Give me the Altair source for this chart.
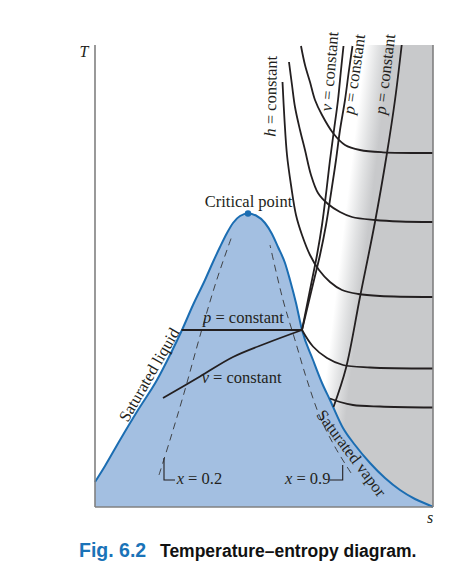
import altair as alt
import pandas as pd

# ---------------- data (entropy s, temperature T in diagram units) ----------------
S_MAX = 338
T_MAX = 462

# saturation dome (saturated liquid -> critical point -> saturated vapor)
dome_s = [0, 10, 25, 43, 62, 75, 87, 98, 110, 118, 125, 132, 138, 145, 153,
          161, 170, 177, 183, 190, 195, 201, 207, 218, 227, 235, 248, 260, 275, 290, 305, 320, 337, 338]
dome_T = [25, 41, 67, 97, 127, 152, 177, 202, 227, 245, 260, 274, 284, 291, 293.5,
          291.5, 284, 273, 260, 244, 227, 204, 177, 147, 124, 107, 79, 62, 44, 29, 17, 8, 0.5, 0]

crit_s = [153]
crit_T = [293.5]

# p = constant and v = constant inside the dome
p_in_s = [86.5, 207]
p_in_T = [177, 177]
v_in_s = [68, 105, 138, 172, 207]
v_in_T = [109, 130.5, 150, 164, 177]

# h = constant lines
hA_s = [187.5, 189.5, 192, 196, 201, 207, 215, 224, 235, 247, 263, 285, 338]
hA_T = [425, 387, 352, 322, 292, 272, 252, 237, 225, 217, 213, 211, 210]
hB_s = [194, 197, 200, 205, 210, 216, 223, 233, 245, 257, 280, 305, 338]
hB_T = [445, 422, 400, 377, 357, 332, 314, 303, 295, 290, 287, 285.5, 285]
hC_s = [206, 210, 215, 220, 227, 238, 250, 265, 288, 338]
hC_T = [461, 442, 425, 407, 392, 374, 362, 357, 354.7, 354]
hD_s = [207, 218, 232, 248, 275, 338]
hD_T = [177, 160.5, 149, 142, 139.5, 138.5]
hE_s = [235, 245, 258, 285, 338]
hE_T = [108.5, 105, 102, 100.5, 99.5]

# v = constant and p = constant in the superheated region
v_s = [207, 212, 217, 222, 227, 231.5, 235, 239, 243, 246, 248.5]
v_T = [177, 202, 227, 252, 282, 317, 347, 377, 407, 437, 461]
p1_s = [207, 213, 219, 225, 231, 236.5, 241, 245, 250, 254, 257.5]
p1_T = [177, 202, 227, 252, 282, 317, 347, 377, 407, 437, 461]
p2_s = [238.5, 251, 265, 280, 292, 300, 306.7]
p2_T = [100, 139, 210, 285, 354, 407, 462]

# quality lines x = 0.2 and x = 0.9
x02_s = [64, 75, 88, 106.7, 121.7, 136.7]
x02_T = [32, 67, 110.3, 177, 227, 270.3]
x09_s = [256, 240, 225, 212, 200, 188, 175]
x09_T = [34, 60, 90, 127, 167, 207, 262]

# label brackets
br02_s = [69, 69, 80]
br02_T = [49, 27, 27]
br09_s = [235, 247.7, 247.7]
br09_T = [27, 27, 42]

# superheated (shaded) region
grad_s = [205, 338]
grad_T = [462, 462]

# horizontal labels: italic symbol + roman rest
ital_text = ["p", "v", "x", "x"]
ital_s = [108, 106.7, 81.7, 190]
ital_T = [183.7, 123.7, 22.7, 22.7]
rom_text = ["= constant", "= constant", "= 0.2", "= 0.9"]
rom_s = [120.4, 118.1, 93.1, 201.4]
rom_T = [183.7, 123.7, 22.7, 22.7]

# near-vertical labels along the lines (symbol, rest, angle)
vert_sym = ["h", "v", "p", "p"]
vert_sym_s = [180.5, 236.5, 259, 290.4]
vert_sym_T = [370.3, 395.3, 392, 392]
vert_rest_s = [180.7, 237.5, 260.7, 291.9]
vert_rest_T = [382.65, 406.65, 404.2, 404.3]
vert_angle = [271, 275, 278, 277]

# ---------------- chart ----------------
BLUE_LINE = "#1b6db2"
BLUE_FILL = "#a3bfe1"
INK = "#231f20"
SERIF = "Liberation Serif"
FS = 16.5

xs = alt.Scale(domain=[0, S_MAX], nice=False, zero=False)
ys = alt.Scale(domain=[0, T_MAX], nice=False, zero=False)
X = alt.X("s:Q", scale=xs, axis=None)
Y = alt.Y("T:Q", scale=ys, axis=None)


def lines_df(named):
    rows = []
    for name, (ss, tt) in named.items():
        for i, (a, b) in enumerate(zip(ss, tt)):
            rows.append({"name": name, "i": i, "s": a, "T": b})
    return pd.DataFrame(rows)


def line_layer(named, **kw):
    return alt.Chart(lines_df(named)).mark_line(**kw).encode(
        x=X, y=Y, detail="name:N", order="i:Q")


def text_layer(texts, ss, tt, angles=None, **kw):
    df = pd.DataFrame({"text": texts, "s": ss, "T": tt})
    enc = dict(x=X, y=Y, text="text:N")
    if angles is not None:
        df["ang"] = angles
        enc["angle"] = alt.Angle("ang:Q", scale=None)
    return alt.Chart(df).mark_text(**kw).encode(**enc)


gray = alt.Chart(pd.DataFrame({"s": grad_s, "T": grad_T})).mark_area(
    color=alt.LinearGradient(
        gradient="linear",
        stops=[
            alt.GradientStop(color="#ffffff", offset=0),
            alt.GradientStop(color="#ffffff", offset=0.42),
            alt.GradientStop(color="#e2e3e4", offset=0.5),
            alt.GradientStop(color="#c8c9cb", offset=0.58),
            alt.GradientStop(color="#c8c9cb", offset=1),
        ],
        x1=0, y1=0, x2=1, y2=0.417,
    )
).encode(x=X, y=Y, y2=alt.datum(0))

dome_df = pd.DataFrame({"s": dome_s, "T": dome_T})
dome_fill = alt.Chart(dome_df).mark_area(interpolate="monotone", color=BLUE_FILL).encode(
    x=X, y=Y, y2=alt.datum(0))
dome_line = alt.Chart(dome_df).mark_line(interpolate="monotone", color=BLUE_LINE, strokeWidth=2).encode(
    x=X, y=Y)
crit = alt.Chart(pd.DataFrame({"s": crit_s, "T": crit_T})).mark_circle(
    size=42, color=BLUE_LINE, opacity=1).encode(x=X, y=Y)

curves = line_layer(
    {"hA": (hA_s, hA_T), "hB": (hB_s, hB_T), "hC": (hC_s, hC_T), "hD": (hD_s, hD_T),
     "hE": (hE_s, hE_T), "v": (v_s, v_T), "p1": (p1_s, p1_T), "p2": (p2_s, p2_T),
     "vin": (v_in_s, v_in_T), "pin": (p_in_s, p_in_T)},
    interpolate="catmull-rom", color=INK, strokeWidth=1.8)

dashed = line_layer({"x02": (x02_s, x02_T), "x09": (x09_s, x09_T)},
                    interpolate="catmull-rom", color="#333333", strokeWidth=0.9,
                    strokeDash=[7, 5])

brackets = line_layer({"b02": (br02_s, br02_T), "b09": (br09_s, br09_T)},
                      color=INK, strokeWidth=1.1)

axes_df = pd.DataFrame({"s": [0, 0, S_MAX], "T": [0, 0, 0],
                        "s2": [0, S_MAX, S_MAX], "T2": [T_MAX, 0, T_MAX]})
axes = alt.Chart(axes_df).mark_rule(color="#808080", strokeWidth=1.6).encode(
    x=X, y=Y, x2="s2:Q", y2="T2:Q")

common = dict(font=SERIF, fontSize=FS, color=INK)
labels = [
    text_layer(ital_text, ital_s, ital_T, align="left", baseline="alphabetic",
               fontStyle="italic", **common),
    text_layer(rom_text, rom_s, rom_T, align="left", baseline="alphabetic", **common),
    text_layer(vert_sym, vert_sym_s, vert_sym_T, angles=vert_angle, align="left",
               baseline="alphabetic", fontStyle="italic", **common),
    text_layer(["= constant"] * 4, vert_rest_s, vert_rest_T, angles=vert_angle, align="left",
               baseline="alphabetic", **common),
    text_layer(["Critical point"], [153.5], [300.5], align="center", baseline="alphabetic", **common),
    text_layer(["Saturated liquid"], [59], [129.5], align="center", baseline="alphabetic",
               angle=300, **common),
    text_layer(["Saturated vapor"], [252], [50.5], align="center", baseline="alphabetic",
               angle=53, **common),
    text_layer(["T"], [-11], [455], align="center", baseline="middle", fontStyle="italic",
               font=SERIF, fontSize=16, color=INK),
    text_layer(["s"], [335], [-11], align="center", baseline="middle", fontStyle="italic",
               font=SERIF, fontSize=16, color=INK),
    text_layer(["Fig. 6.2"], [-16], [-50], align="left", baseline="alphabetic",
               font="Liberation Sans", fontWeight="bold", fontSize=19.5, color="#1a73b8"),
    text_layer(["Temperature\u2013entropy diagram."], [65], [-50], align="left",
               baseline="alphabetic", font="Liberation Sans", fontWeight="bold",
               fontSize=17.5, color="#111111"),
]

chart = alt.layer(
    gray, dome_fill, dome_line, dashed, curves, brackets, crit, axes, *labels
).properties(
    width=S_MAX, height=T_MAX,
    autosize=alt.AutoSizeParams(type="none"),
    padding={"left": 87, "top": 37, "right": 15, "bottom": 60},
    background="white",
).configure_view(stroke=None)

chart.save("out.html", embed_options={"renderer": "svg", "actions": False})
